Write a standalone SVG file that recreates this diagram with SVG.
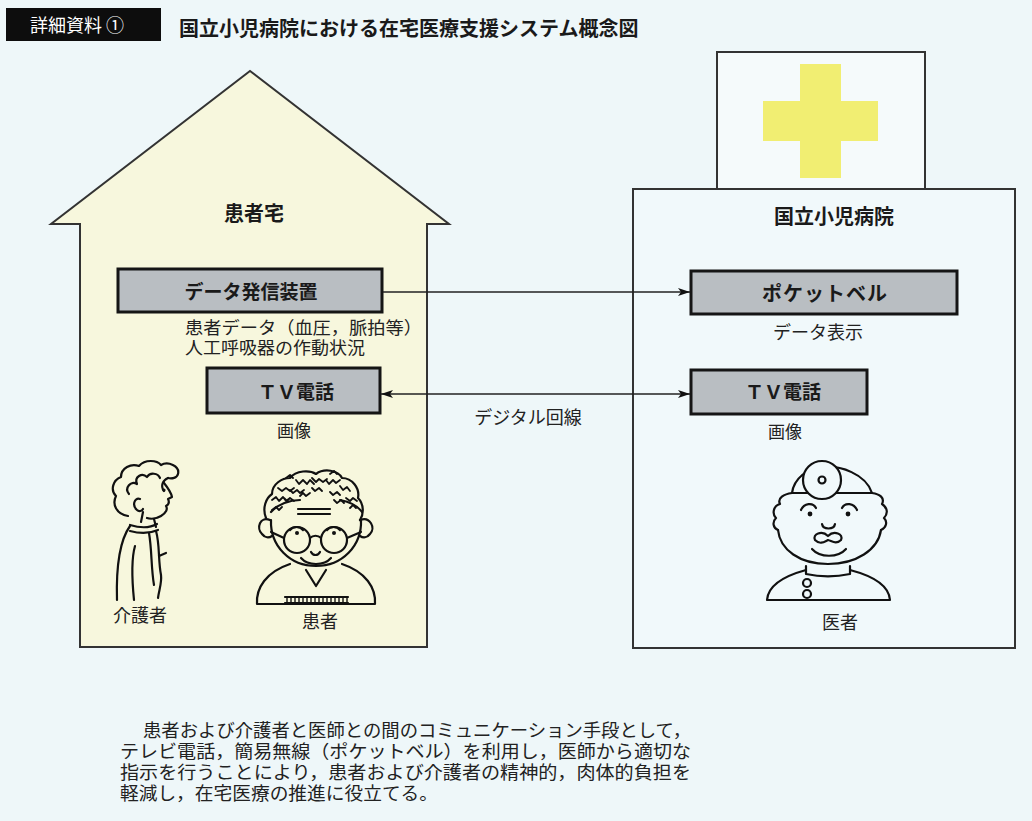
<svg xmlns="http://www.w3.org/2000/svg" width="1032" height="821" viewBox="0 0 1032 821">
  <defs>
    <style>
      .sans { font-family: "Noto Sans CJK JP", "Noto Sans", sans-serif; }
      .label { font-family: "Noto Sans CJK JP", "Noto Sans", sans-serif; font-weight: 700; fill: #1a1a1a; text-anchor: middle; }
      .note { font-family: "Liberation Sans", "Noto Sans CJK JP", sans-serif; font-weight: 400; fill: #222; }
      .note-c { font-family: "Liberation Sans", "Noto Sans CJK JP", sans-serif; font-weight: 400; fill: #222; text-anchor: middle; }
      .device { fill: #b9bec2; stroke: #151515; stroke-width: 3; }
      .ink { fill: none; stroke: #111; stroke-width: 2.2; stroke-linecap: round; stroke-linejoin: round; }
      .curl { fill: none; stroke: #111; stroke-width: 1.8; stroke-linecap: round; stroke-linejoin: round; }
      .inkfill { fill: #111; }
      .wire { fill: none; stroke: #222; stroke-width: 1.6; }
    </style>
    <marker id="arrow" viewBox="0 0 12 8" refX="12" refY="4" markerWidth="12" markerHeight="8" markerUnits="userSpaceOnUse" orient="auto-start-reverse">
      <path d="M0,0 L12,4 L0,8 L3,4 Z" fill="#111"/>
    </marker>
  </defs>

  <!-- page -->
  <rect x="0" y="0" width="1032" height="821" fill="#eef7f9"/>

  <!-- heading -->
  <g id="heading">
    <rect x="6" y="8" width="155" height="33" fill="#0d0d0d"/>
    <text x="30" y="32" class="sans" font-size="18" fill="#ffffff">詳細資料 ①</text>
    <text x="179" y="36" class="sans" font-size="20" font-weight="700" fill="#1a1a1a">国立小児病院における在宅医療支援システム概念図</text>
  </g>

  <!-- patient home -->
  <g id="home">
    <path d="M80,647 L80,224 L51,224 L250,71 L449,224 L427,224 L427,647 Z" fill="#f7f7dd" stroke="#333" stroke-width="2" stroke-linejoin="miter"/>
    <text x="254" y="221" class="label" font-size="20">患者宅</text>
  </g>

  <!-- hospital -->
  <g id="hospital">
    <rect x="717" y="52" width="208" height="137" fill="#f5fafb" stroke="#333" stroke-width="2"/>
    <path d="M800,64 H841 V101 H878 V141 H841 V178 H800 V141 H763 V101 H800 Z" fill="#f1ee72"/>
    <rect x="633" y="189" width="382" height="459" fill="#f1f9fb" stroke="#333" stroke-width="2"/>
    <text x="834" y="224" class="label" font-size="20">国立小児病院</text>
  </g>

  <!-- home devices -->
  <g id="transmitter">
    <rect x="118" y="269" width="264" height="43" class="device"/>
    <text x="251" y="299" class="label" font-size="19">データ発信装置</text>
    <text x="185" y="334" class="note" font-size="17.5" textLength="237" lengthAdjust="spacingAndGlyphs">患者データ（血圧，脈拍等）</text>
    <text x="185" y="354" class="note" font-size="17.5" textLength="180" lengthAdjust="spacingAndGlyphs">人工呼吸器の作動状況</text>
  </g>
  <g id="tv-home">
    <rect x="207" y="368" width="173" height="45" class="device"/>
    <text x="296" y="399" class="label" font-size="19">ＴＶ電話</text>
    <text x="294" y="437" class="note-c" font-size="17">画像</text>
  </g>

  <!-- hospital devices -->
  <g id="pager">
    <rect x="691" y="271" width="266" height="43" class="device"/>
    <text x="825" y="301" class="label" font-size="20" letter-spacing="1">ポケットベル</text>
    <text x="818" y="339" class="note-c" font-size="18">データ表示</text>
  </g>
  <g id="tv-hospital">
    <rect x="691" y="370" width="176" height="44" class="device"/>
    <text x="783" y="399" class="label" font-size="19">ＴＶ電話</text>
    <text x="785" y="438" class="note-c" font-size="17">画像</text>
  </g>

  <!-- links -->
  <g id="connectors">
    <line x1="383" y1="292" x2="690" y2="292" class="wire" marker-end="url(#arrow)"/>
    <line x1="381" y1="394" x2="690" y2="394" class="wire" marker-start="url(#arrow)" marker-end="url(#arrow)"/>
    <text x="528" y="424" class="note-c" font-size="18">デジタル回線</text>
  </g>

  <!-- caregiver, side view -->
  <g id="caregiver">
    <path class="ink" d="M128,516 C116,514 112,504 116,496 C110,490 113,480 121,477 C121,468 131,463 139,466 C145,459 157,460 161,465 C168,461 180,466 178,474 C177,478 172,479 168,478"/>
    <path class="ink" d="M168,478 C163,480 160,486 164,491"/>
    <path class="ink" d="M129,494 C124,488 131,480 137,484 C134,477 142,472 147,477 C150,472 158,473 160,478"/>
    <path class="ink" d="M140,499 C134,497 132,506 137,510 C139,512 142,511 143,509"/>
    <path class="ink" d="M164,483 C168,488 171,492 172,497 L168,499 C170,503 168,505 166,506 C168,509 166,513 161,516 C156,519 150,519 147,518"/>
    <circle class="inkfill" cx="164" cy="490" r="1.6"/>
    <path class="ink" d="M143,512 L141,522"/>
    <path class="ink" d="M154,519 L156,527"/>
    <path class="ink" d="M130,525 C140,528 150,528 157,524"/>
    <path class="ink" d="M130,531 C141,534 151,533 158,530"/>
    <path class="ink" d="M130,526 C120,540 116,565 117,600"/>
    <path class="ink" d="M135,546 C131,560 132,580 134,600"/>
    <path class="ink" d="M156,531 C160,545 158,560 161,575 C162,583 159,590 158,598"/>
    <path class="ink" d="M149,533 C152,550 151,568 154,585"/>
    <path class="ink" d="M159,556 L166,553"/>
  </g>
  <text x="140" y="622" class="note-c" font-size="18">介護者</text>

  <!-- patient, front view -->
  <g id="patient">
    <path class="ink" d="M266,518 C262,508 266,498 272,494 C272,484 282,478 290,478 C296,470 310,470 316,474 C324,468 338,470 342,478 C352,478 360,488 358,498 C364,504 364,514 360,520"/>
    <path class="curl" d="M272,500 l4,-3 l3,4 l4,-4 l3,4 l4,-3 M278,488 l4,3 l4,-3 l4,3 l4,-3 M296,480 l3,4 l4,-4 l4,4 l3,-4 l4,4 M312,478 l4,4 l3,-3 l4,3 l4,-3 M326,480 l3,4 l4,-4 l3,3 l4,-3 M340,486 l3,4 l4,-3 l3,4 M346,498 l4,3 l3,-3 l4,3 M290,490 l3,3 l4,-3 l3,3 l4,-3 M312,488 l3,3 l4,-3 l3,3 M330,492 l3,3 l4,-3 l3,3 M272,510 l4,-3 l3,3 l3,-3 M284,498 l3,3 l3,-3 l4,3 M300,496 l3,-3 l3,3 l4,-3 M334,500 l3,3 l4,-3 l3,3 M350,508 l3,-3 l3,3 M286,478 l4,-3 l3,3 M330,474 l4,-3 l3,3"/>
    <path class="ink" d="M271,512 C278,504 290,500 300,500 M340,500 C350,502 358,506 362,512"/>
    <path class="ink" d="M270,520 C260,516 256,528 262,534 C265,538 269,538 272,536"/>
    <path class="ink" d="M360,520 C370,516 376,528 370,534 C367,538 363,538 360,536"/>
    <path class="ink" d="M271,520 C270,546 290,566 316,566 C342,566 362,546 361,520"/>
    <path class="ink" d="M298,509 H330 M298,514 H330"/>
    <circle class="ink" cx="297" cy="540" r="13"/>
    <circle class="ink" cx="334" cy="540" r="13"/>
    <path class="ink" d="M310,538 C313,535 318,535 321,538 M284,538 L271,532 M347,538 L361,532"/>
    <path class="ink" d="M290,530 C293,526 300,526 303,530 M327,530 C330,526 337,526 340,530"/>
    <circle class="inkfill" cx="297" cy="533" r="2"/>
    <circle class="inkfill" cx="334" cy="533" r="2"/>
    <path class="ink" d="M311,552 C313,556 318,556 320,552"/>
    <path class="ink" d="M301,558 C308,566 324,566 331,558"/>
    <path class="ink" d="M290,564 C266,572 256,588 257,604 H375 C376,588 366,572 342,564"/>
    <path class="ink" d="M306,570 L316,586 L326,570"/>
    <path class="ink" d="M285,597 H348 M285,603 H348"/>
    <path stroke="#111" stroke-width="1.4" fill="none" d="M287,597 v6 M291,597 v6 M295,597 v6 M299,597 v6 M303,597 v6 M307,597 v6 M311,597 v6 M315,597 v6 M319,597 v6 M323,597 v6 M327,597 v6 M331,597 v6 M335,597 v6 M339,597 v6 M343,597 v6 M347,597 v6"/>
  </g>
  <text x="320" y="628" class="note-c" font-size="18">患者</text>

  <!-- doctor, front view -->
  <g id="doctor">
    <path class="ink" d="M792,493 C794,478 808,468 822,467 C840,465 866,474 872,493 Z"/>
    <circle cx="822" cy="480" r="19" fill="#f1f9fb" stroke="#111" stroke-width="2.2"/>
    <circle class="ink" cx="822" cy="480" r="3.5"/>
    <path class="ink" d="M792,493 C784,494 777,498 780,504 C773,506 772,514 776,518 C772,522 773,528 778,530"/>
    <path class="ink" d="M872,493 C880,494 885,498 882,504 C888,508 888,514 884,518 C888,522 886,528 881,530"/>
    <path class="ink" d="M778,530 C780,550 800,564 828,564 C856,564 878,550 881,530"/>
    <path class="ink" d="M801,510 C804,503 813,502 816,508 M842,508 C845,502 854,503 857,510"/>
    <circle class="inkfill" cx="810" cy="514" r="2.4"/>
    <circle class="inkfill" cx="848" cy="514" r="2.4"/>
    <path class="ink" d="M822,524 C823,530 834,530 835,524"/>
    <path class="ink" d="M815,540 C812,534 822,530 828,536 C834,530 844,534 841,540 C836,545 832,541 828,540 C824,542 820,545 815,540"/>
    <path class="ink" d="M812,549 C820,558 838,558 846,549"/>
    <path class="ink" d="M806,566 V574 C820,577 836,577 850,574 V566"/>
    <path class="ink" d="M806,570 C784,576 768,586 767,600 H890 C889,586 873,576 850,570"/>
    <circle class="ink" cx="807" cy="583" r="4"/>
    <circle class="ink" cx="807" cy="594" r="4"/>
  </g>
  <text x="840" y="629" class="note-c" font-size="18">医者</text>

  <!-- summary -->
  <g id="summary">
    <text x="143" y="737" class="note" font-size="18" textLength="548" lengthAdjust="spacingAndGlyphs">患者および介護者と医師との間のコミュニケーション手段として，</text>
    <text x="120" y="758" class="note" font-size="18" textLength="571" lengthAdjust="spacingAndGlyphs">テレビ電話，簡易無線（ポケットベル）を利用し，医師から適切な</text>
    <text x="120" y="779" class="note" font-size="18" textLength="571" lengthAdjust="spacingAndGlyphs">指示を行うことにより，患者および介護者の精神的，肉体的負担を</text>
    <text x="120" y="800" class="note" font-size="18" textLength="318" lengthAdjust="spacingAndGlyphs">軽減し，在宅医療の推進に役立てる。</text>
  </g>
</svg>
